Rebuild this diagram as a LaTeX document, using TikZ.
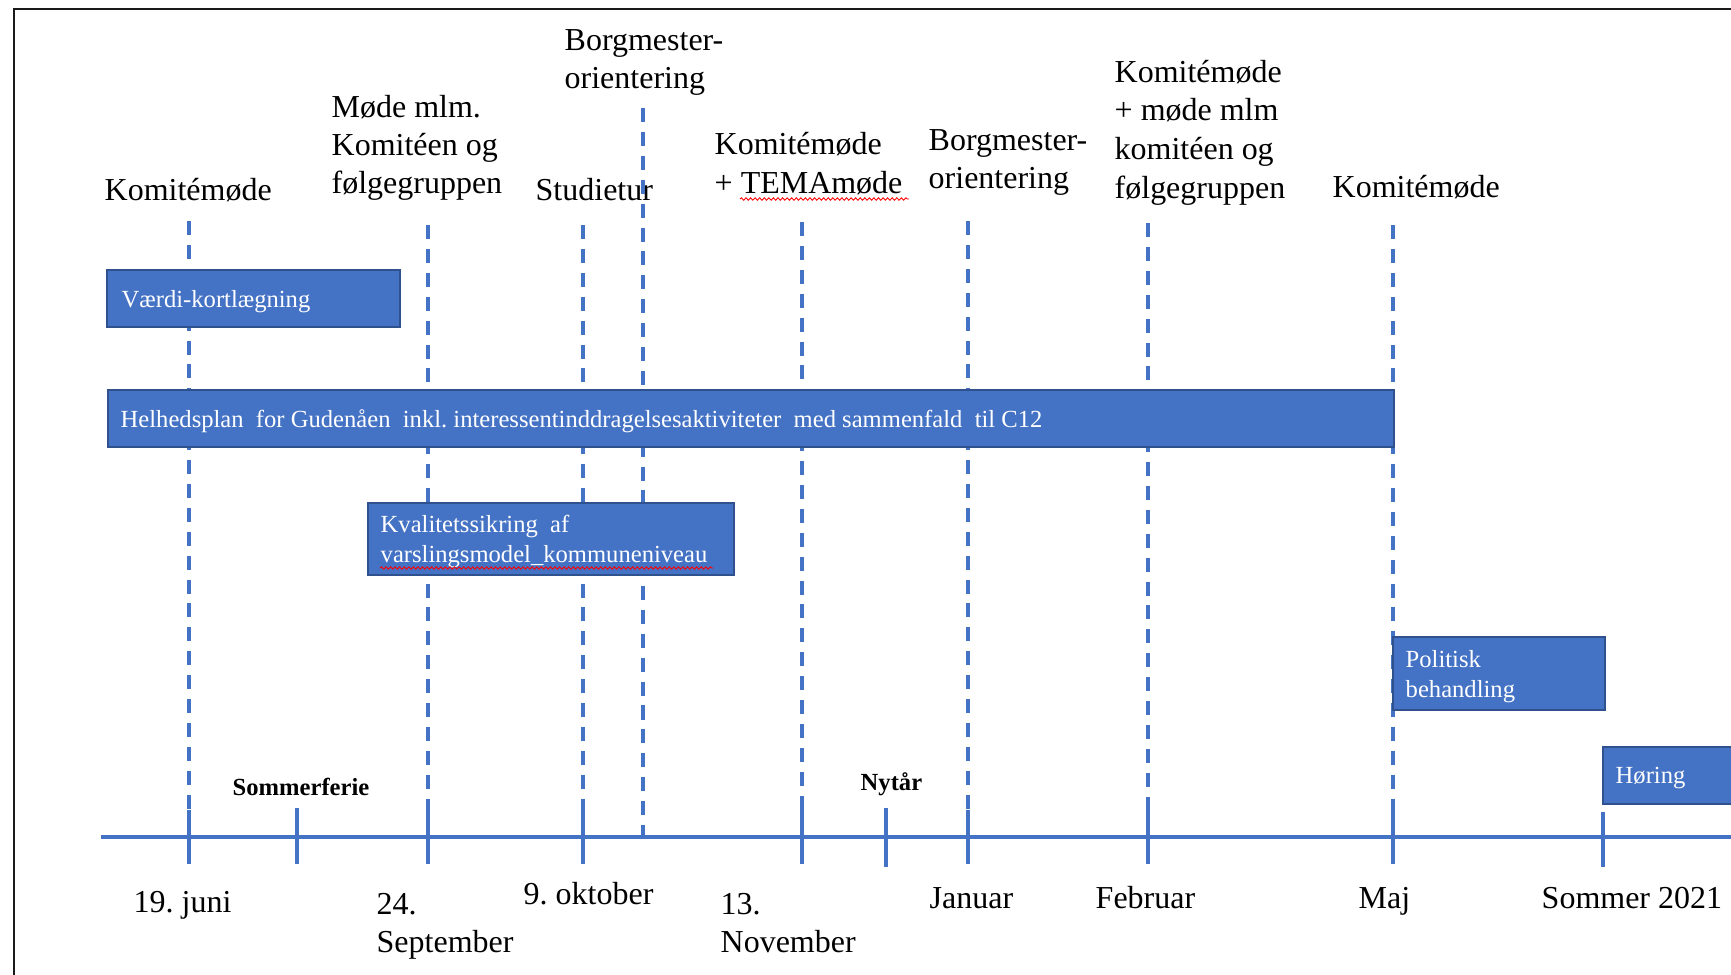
\documentclass[tikz,border=0pt]{standalone}
\usepackage{fontspec}
\setmainfont{Liberation Serif}
\usetikzlibrary{decorations.pathmorphing}
\frenchspacing
\definecolor{tblue}{HTML}{4472C4}
\definecolor{tborder}{HTML}{2F528F}
\definecolor{framecol}{HTML}{1A1A1A}
\tikzset{
  lbl/.style={anchor=base west, inner sep=0pt, font=\fontsize{9.1}{11}\selectfont},
  smallbold/.style={anchor=base west, inner sep=0pt, font=\fontsize{7}{8.5}\selectfont\bfseries},
  boxtxt/.style={anchor=base west, inner sep=0pt, text=white, font=\fontsize{7}{8.5}\selectfont},
  bar/.style={fill=tblue, draw=tborder, line width=0.6pt, anchor=north west, inner sep=0pt},
  vdash/.style={draw=tblue, line width=0.95pt, dash pattern=on 4pt off 2.8pt},
  tickline/.style={draw=tblue, line width=0.95pt},
  axisline/.style={draw=tblue, line width=1pt},
  squig/.style={draw=red, line width=0.25pt, decorate, decoration={snake, amplitude=0.35pt, segment length=1.3pt}},
}
\begin{document}
\begin{tikzpicture}[x=0.1mm, y=-0.1mm]
\useasboundingbox (0,0) rectangle (1731,974);
\clip (0,0) rectangle (1731,974);
% frame
\draw[framecol, line width=0.7pt] (13.8,9) rectangle (1800,1100);

% top labels
\node[lbl] (a1) at (104,200) {Komitémøde};
\node[lbl] (b1) at (331,117) {Møde mlm.};
\node[lbl] (b2) at (331,155) {Komitéen og};
\node[lbl] (b3) at (331,193) {følgegruppen};
\node[lbl] (c1) at (564,50) {Borgmester-};
\node[lbl] (c2) at (564,88) {orientering};
\node[lbl] (d1) at (535,200) {Studietur};
\node[lbl] (e1) at (714,154) {Komitémøde};
\node[lbl] (e2) at (714,193) {+ TEMAmøde};
\node[lbl] (f1) at (928,150) {Borgmester-};
\node[lbl] (f2) at (928,188) {orientering};
\node[lbl] (g1) at (1114,82) {Komitémøde};
\node[lbl] (g2) at (1114,120) {+ møde mlm};
\node[lbl] (g3) at (1114,159) {komitéen og};
\node[lbl] (g4) at (1114,198) {følgegruppen};
\node[lbl] (h1) at (1332,197) {Komitémøde};

% dashed date lines
\foreach \x/\t in {189/221, 428/225, 583/225, 802/222, 968/221, 1148/223, 1393/225}{
  \draw[vdash] (\x,\t) -- (\x,810);
  \draw[tickline] (\x,810) -- (\x,864);
}
\draw[vdash] (643,108) -- (643,837);
% solid ticks
\draw[tickline] (297,808) -- (297,864);
\draw[tickline] (886,808) -- (886,867);
\draw[tickline] (1603,812) -- (1603,867);
% axis
\coordinate (axL) at (101,837);
\coordinate (axR) at (1740,837);
\draw[axisline] (axL) -- (axR);

% bars
\node[bar, minimum width=29.3mm, minimum height=5.7mm] (vaerdi) at (106,269) {};
\node[bar, minimum width=128.65mm, minimum height=5.7mm] (helhed) at (106.5,389) {};
\node[bar, minimum width=36.6mm, minimum height=7.2mm] (kval) at (367,502) {};
\node[bar, minimum width=21.2mm, minimum height=7.3mm] (polit) at (1392,636) {};
\node[bar, minimum width=20mm, minimum height=5.7mm] (horing) at (1602,746) {};

% bar texts
\node[boxtxt] (tvaerdi) at (121,307) {Værdi-kortlægning};
\node[boxtxt] (thelhed) at (120,427) {Helhedsplan\ \ for Gudenåen\ \ inkl. interessentinddragelsesaktiviteter\ \ med sammenfald\ \ til C12};
\node[boxtxt] (tkval1) at (380,532) {Kvalitetssikring\ \ af};
\node[boxtxt] (tkval2) at (380,562) {varslingsmodel\_kommuneniveau};
\node[boxtxt] (tpol1) at (1405,667) {Politisk};
\node[boxtxt] (tpol2) at (1405,697) {behandling};
\node[boxtxt] (thor) at (1615,783) {Høring};

% spelling squiggles
\draw[squig] (740,199) -- (909,199);
\draw[squig] (380,568) -- (713,568);

% bottom labels
\node[smallbold] (sf) at (232,795) {Sommerferie};
\node[smallbold] (ny) at (860,790) {Nytår};
\node[lbl] (m1) at (133,912) {19. juni};
\node[lbl] (m2a) at (376,914) {24.};
\node[lbl] (m2b) at (376,952) {September};
\node[lbl] (m3) at (523,904) {9. oktober};
\node[lbl] (m4a) at (720,914) {13.};
\node[lbl] (m4b) at (720,952) {November};
\node[lbl] (m5) at (929,908) {Januar};
\node[lbl] (m6) at (1095,908) {Februar};
\node[lbl] (m7) at (1358,908) {Maj};
\node[lbl] (m8) at (1541,908) {Sommer 2021};
\end{tikzpicture}
\end{document}
